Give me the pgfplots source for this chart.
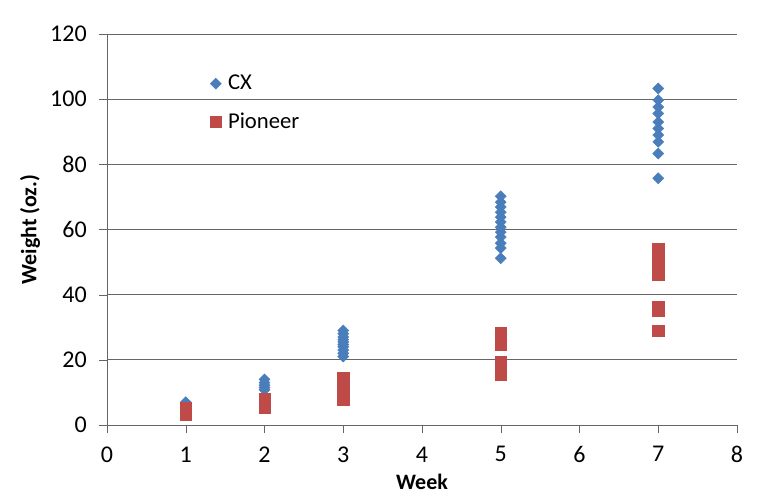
\documentclass[border=0pt]{standalone}
\usepackage{fontspec}
\setmainfont{Carlito}
\usepackage{pgfplots}
\pgfplotsset{compat=1.18}
\definecolor{cxblue}{HTML}{4A7EBB}
\definecolor{pred}{HTML}{BE4B48}
\begin{document}
\fontsize{15pt}{18pt}\selectfont
\begin{tikzpicture}
\begin{axis}[
  scale only axis,
  width=472.5pt, height=293.25pt,
  xmin=0, xmax=8, ymin=0, ymax=120,
  xtick={0,1,...,8}, ytick={0,20,...,120},
  axis lines=left,
  axis line style={-, draw=gray!80!black},
  tick style={draw=gray!80!black},
  tick align=outside,
  major tick length=6pt,
  ymajorgrids,
  grid style={gray!80!black, line width=0.5pt},
  /pgf/number format/assume math mode=true,
  ticklabel style={font=\fontsize{18pt}{21pt}\selectfont},
  xticklabel style={yshift=-5pt},
  yticklabel style={xshift=-4pt},
  xlabel={\textbf{Week}},
  ylabel={\textbf{Weight (oz.)}},
  label style={font=\fontsize{16.5pt}{19pt}\selectfont},
  xlabel style={at={(axis description cs:0.5,0)}, anchor=center, yshift=-42.4pt},
  ylabel style={at={(axis description cs:0,0.5)}, anchor=center, yshift=57.75pt},
  legend style={draw=none, fill=none, at={(0.157,0.91)}, anchor=north west,
    row sep=11pt, font=\fontsize{17pt}{20pt}\selectfont},
  legend cell align=left,
  clip=false,
]
\addplot[only marks, mark=square*, mark size=2.9pt, mark options={rotate=45, fill=cxblue, draw=cxblue}] coordinates {
(1,7) (1,6.2) (1,5.5)
(2,14) (2,13) (2,12.2) (2,11.5) (2,10.8)
(3,29) (3,28) (3,27) (3,26.2) (3,25.5) (3,24.7) (3,24) (3,23) (3,22) (3,21)
(5,70.2) (5,68.4) (5,66.9) (5,65.3) (5,63.8) (5,62.3) (5,60.7) (5,59.2) (5,57.7) (5,55.8) (5,54.3) (5,51.2)
(7,103.3) (7,99.7) (7,97.6) (7,95.6) (7,93.0) (7,91.0) (7,89.0) (7,86.9) (7,83.3) (7,75.7)
};
\addlegendentry{\hspace*{3pt}CX}
\addplot[only marks, mark=square*, mark size=4.2pt, mark options={fill=pred, draw=pred}] coordinates {
(1,5.3) (1,4) (1,3.3)
(2,8) (2,7) (2,6) (2,5.3)
(3,14.5) (3,13) (3,12) (3,11) (3,9.5) (3,7.8)
(5,28.2) (5,27) (5,26) (5,24.8) (5,19.4) (5,18) (5,17) (5,15.6)
(7,54) (7,52) (7,50) (7,48) (7,46.2) (7,36.4) (7,35.2) (7,28.8)
};
\addlegendentry{\hspace*{3pt}Pioneer}
\end{axis}
\path[use as bounding box] (-80.25pt,-53.25pt) rectangle (487.5pt,318.75pt);
\end{tikzpicture}
\end{document}
